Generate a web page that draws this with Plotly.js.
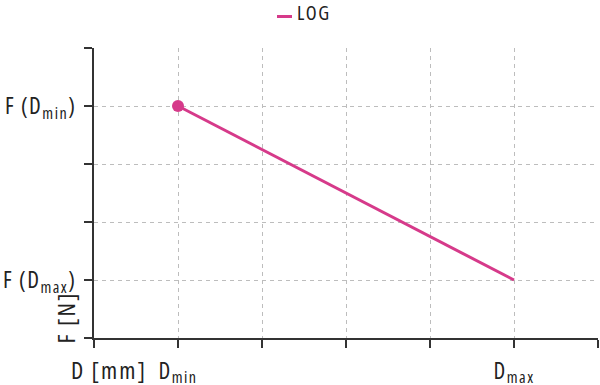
<!DOCTYPE html>
<html><head><meta charset="utf-8">
<script src="https://cdn.plot.ly/plotly-3.0.1.min.js"></script>
<style>html,body{margin:0;padding:0;background:#fff}#c{width:600px;height:385px}
#c text{font-stretch:75% !important;letter-spacing:1.5px}
#c .annotation text{letter-spacing:2px}</style>
</head><body><div id="c"></div>
<script>
const seriesName = "LOG";
const xValues = [1, 5];
const yValues = [4, 1];
const xTickVals = [0, 1, 2, 3, 4, 5, 6];
const xTickText = ["", "D<sub>min</sub>", "", "", "", "D<sub>max</sub>", ""];
const yTickVals = [0, 1, 2, 3, 4, 5];
const yTickText = ["", "F (D<sub>max</sub>)", "", "", "F (D<sub>min</sub>)", ""];
const xTitle = "D [mm]";
const yTitle = "F [N]";

const FONT = "Open Sans, Roboto, sans-serif";
const pink = "#d63a8a";
const dark = "#333333";

const lineTrace = {
  x: xValues, y: yValues, name: seriesName, type: "scatter", mode: "lines",
  line: {color: pink, width: 3}, showlegend: true
};
const startPoint = {
  x: [xValues[0]], y: [yValues[0]], name: seriesName, type: "scatter", mode: "markers",
  marker: {color: pink, size: 12, line: {width: 0}}, showlegend: false
};

const layout = {
  width: 600, height: 385,
  margin: {l: 94, r: 2, t: 48, b: 47},
  paper_bgcolor: "#fff", plot_bgcolor: "#fff",
  font: {family: FONT, size: 23, color: "#222"},
  showlegend: true,
  legend: {orientation: "h", x: 0.5, xanchor: "center", xref: "container", y: 1, yanchor: "top",
           yref: "container", font: {family: FONT, size: 20, color: "#222"}},
  xaxis: {range: [0, 6], tickmode: "array", tickvals: xTickVals, ticktext: xTickText,
          showline: true, linecolor: dark, linewidth: 2, ticks: "outside", ticklen: 8, tickwidth: 2,
          tickcolor: dark, showgrid: true, gridcolor: "#bdbdbd", gridwidth: 1, griddash: "4px,4px",
          zeroline: false, ticklabelstandoff: 3, fixedrange: true},
  yaxis: {range: [0, 5], tickmode: "array", tickvals: yTickVals, ticktext: yTickText,
          showline: true, linecolor: dark, linewidth: 2, ticks: "outside", ticklen: 8, tickwidth: 2,
          tickcolor: dark, showgrid: true, gridcolor: "#bdbdbd", gridwidth: 1, griddash: "4px,4px",
          zeroline: false, ticklabelstandoff: 3, fixedrange: true},
  annotations: [
    {text: xTitle, xref: "paper", yref: "paper", x: 0.03, y: -0.11, xanchor: "center", yanchor: "middle",
     showarrow: false, font: {family: FONT, size: 24, color: "#222"}},
    {text: yTitle, xref: "paper", yref: "paper", x: -0.056, y: 0.069, xanchor: "center", yanchor: "middle",
     textangle: -90, showarrow: false, font: {family: FONT, size: 24, color: "#222"}}
  ]
};

Plotly.newPlot("c", [lineTrace, startPoint], layout, {staticPlot: true, displayModeBar: false}).then(function (gd) {
  gd.querySelectorAll(".legend .legendlines path").forEach(function (p) { p.setAttribute("d", "M20,4h15"); });
  const lg = gd.querySelector("g.legend");
  if (lg) {
    const t = lg.getAttribute("transform") || "";
    const m = /translate\(\s*([-\d.e]+)[\s,]+([-\d.e]+)\s*\)/.exec(t);
    if (m) lg.setAttribute("transform", "translate(" + m[1] + "," + (parseFloat(m[2]) - 7) + ")");
  }
});
</script></body></html>
